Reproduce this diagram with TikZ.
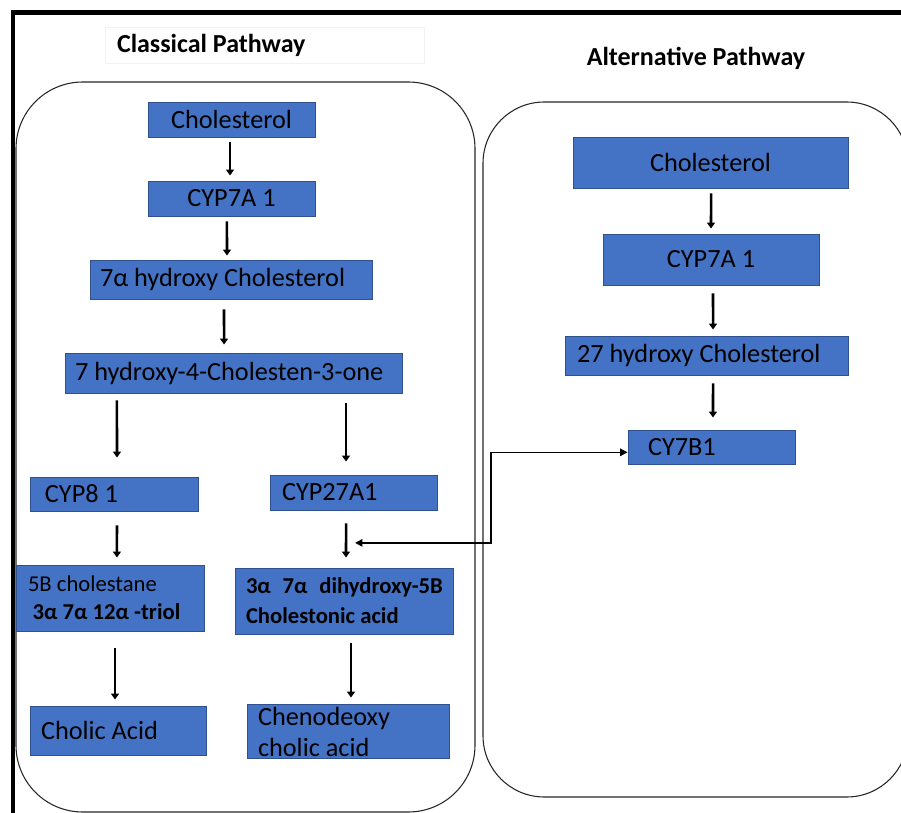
\documentclass[tikz,border=0pt]{standalone}
\usepackage{fontspec}
\setmainfont{Carlito}
\usetikzlibrary{arrows.meta}
\definecolor{boxc}{HTML}{4472C4}
\definecolor{bordc}{HTML}{2F528F}
\newcommand{\lbx}[2]{\makebox[#1][l]{#2}}
\newcommand{\lowerby}[3]{\raisebox{-#1}[\dimexpr\height-#3\relax][\dimexpr\depth-#3\relax]{#2}}
\tikzset{
  bx/.style={draw=bordc, fill=boxc, line width=0.7pt, inner sep=0pt, text=black,
             font=\fontsize{19.7}{23}\selectfont},
  cbox/.style={bx},
  lbox/.style={bx, inner xsep=#1},
  arr/.style={line width=1.9pt, -{Triangle[width=6pt,length=4.5pt]}},
  conn/.style={line width=1.1pt, {Triangle[width=5.5pt,length=5.5pt]}-{Triangle[width=5.5pt,length=5.5pt]}},
  pathbox/.style={draw=black!85, line width=0.8pt},
  ttl/.style={font=\fontsize{19.5}{22}\selectfont\bfseries, inner sep=0pt}
}
\begin{document}
\begin{tikzpicture}[x=0.75pt,y=-0.75pt]
\useasboundingbox (0,0) rectangle (901,813);
% outer frame
\draw[line width=3.5pt] (13,813) -- (13,12.5) -- (901,12.5);
% containers
\draw[pathbox, rounded corners=50pt] (16,82) rectangle (475,812);
\draw[pathbox, rounded corners=46pt] (483,102) rectangle (908,797);
% titles
\node[ttl, draw=black!5, line width=0.5pt, inner xsep=9pt, minimum height=27pt] (t1) at (264.5,45) {\lbx{221.25pt}{Classical Pathway}};
\node[ttl] (t2) at (696,58.5) {Alternative Pathway};
% classical boxes
\node[cbox, minimum width=125.25pt, minimum height=26.25pt] (chol1) at (231.5,119.5) {Cholesterol};
\node[cbox, minimum width=125.25pt, minimum height=26.25pt] (cyp1) at (231.5,198.5) {CYP7A 1};
\node[lbox=7.5pt, minimum height=29.25pt] (hyd7) at (231,279.5) {\lbx{196.5pt}{7α hydroxy Cholesterol}};
\node[lbox=7.5pt, minimum height=30pt] (hc4) at (233.5,373) {\lbx{237.75pt}{7 hydroxy-4-Cholesten-3-one}};
\node[lbox=11.25pt, minimum height=25.5pt] (cyp8) at (114,494) {\lbx{103.5pt}{CYP8 1}};
\node[lbox=9pt, minimum height=26.25pt] (cyp27) at (353.5,492.5) {\lbx{107.25pt}{CYP27A1}};
\node[lbox=9pt, minimum height=49.5pt, font=\fontsize{17}{21}\selectfont] (chole) at (110,598) {\lbx{123pt}{\lowerby{1.5pt}{\begin{tabular}{@{}l@{}}5B cholestane\\\hspace*{3.5pt}\bfseries 3α 7α 12α -triol\end{tabular}}{0pt}}};
\node[lbox=8.25pt, minimum height=49.5pt, font=\fontsize{17}{22.5}\selectfont\bfseries] (dihyd) at (344,601) {\lbx{147pt}{\lowerby{1.1pt}{\begin{tabular}{@{}l@{}}3α\hspace{5pt} 7α\hspace{5pt} dihydroxy-5B\\Cholestonic acid\end{tabular}}{0pt}}};
\node[lbox=8.25pt, minimum height=36.75pt] (cholic) at (118,730.5) {\lbx{115.5pt}{Cholic Acid}};
\node[lbox=8.25pt, minimum height=40.5pt, font=\fontsize{19.7}{23.25}\selectfont] (cheno) at (348,731) {\lbx{135pt}{\lowerby{3pt}{\begin{tabular}{@{}l@{}}Chenodeoxy\\cholic acid\end{tabular}}{6pt}}};
% alternative boxes
\node[cbox, minimum width=206.25pt, minimum height=38.25pt] (A1) at (710.5,162.5) {Cholesterol};
\node[cbox, minimum width=162pt, minimum height=38.25pt] (A2) at (711,259.5) {CYP7A 1};
\node[lbox=9pt, minimum height=29.25pt] (A3) at (706.5,355.5) {\lbx{194.25pt}{27 hydroxy Cholesterol}};
\node[lbox=15pt, minimum height=25.5pt] (A4) at (711.5,447) {\lbx{95.25pt}{CY7B1}};
% classical arrows
\draw[arr] ([xshift=-1.1pt,yshift=-3.75pt]chol1.south) -- ([xshift=-1.1pt,yshift=3.75pt]cyp1.north);
\draw[arr] ([xshift=-3.4pt,yshift=-3.75pt]cyp1.south) -- ([xshift=-3pt,yshift=3pt]hyd7.north);
\draw[arr] ([xshift=-5.25pt,yshift=-7.5pt]hyd7.south) -- ([xshift=-7.1pt,yshift=6pt]hc4.north);
\draw[arr] ([xshift=-87.4pt,yshift=-5.25pt]hc4.south) -- ([xshift=2.25pt,yshift=14.25pt]cyp8.north);
\draw[arr] ([xshift=84.4pt,yshift=-7.5pt]hc4.south) -- ([xshift=-5.6pt,yshift=9.75pt]cyp27.north);
\draw[arr] ([xshift=2.25pt,yshift=-10.5pt]cyp8.south) -- ([xshift=5.2pt,yshift=5.25pt]chole.north);
\draw[arr] ([xshift=-5.6pt,yshift=-9.75pt]cyp27.south) -- coordinate[pos=0.57] (j) ([xshift=1.5pt,yshift=7.5pt]dihyd.north);
\draw[arr] ([xshift=3.75pt,yshift=-12.75pt]chole.south) -- ([xshift=-2.25pt,yshift=4.5pt]cholic.north);
\draw[arr] ([xshift=5.25pt,yshift=-6.75pt]dihyd.south) -- ([xshift=2.25pt,yshift=4.5pt]cheno.north);
% alternative arrows
\draw[arr] ([xshift=0.4pt,yshift=-3.75pt]A1.south) -- ([yshift=3.75pt]A2.north);
\draw[arr] ([xshift=1.5pt,yshift=-6pt]A2.south) -- ([xshift=4.9pt,yshift=4.5pt]A3.north);
\draw[arr] ([xshift=4.9pt,yshift=-6pt]A3.south) -- ([xshift=1.1pt,yshift=9pt]A4.north);
% cross connector
\draw[conn] ([xshift=6.75pt]j) -- ++(136,0) |- ([yshift=-4pt]A4.west);
\end{tikzpicture}
\end{document}
